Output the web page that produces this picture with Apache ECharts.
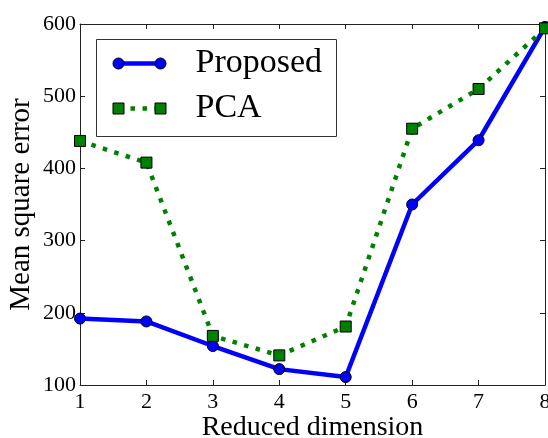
<!DOCTYPE html>
<html>
<head>
<meta charset="utf-8">
<script src="https://cdn.jsdelivr.net/npm/echarts@6/dist/echarts.min.js"></script>
<style>
  html, body { margin: 0; padding: 0; background: #fff; }
  #chart { width: 548px; height: 438px; }
</style>
</head>
<body>
<div id="chart"></div>
<script>
(function () {
    'use strict';

    // data
    var dims = [1, 2, 3, 4, 5, 6, 7, 8];
    var proposed = [192, 188, 154, 122, 111, 350, 439, 596];
    var pca = [438, 408, 168, 141, 181, 455, 510, 594];
    var seriesNames = ['Proposed', 'PCA'];

    var FONT = "'Liberation Serif', 'Times New Roman', serif";
    var BLUE = '#0000ff';
    var GREEN = '#008000';

    function pairs(ys) {
        return dims.map(function (d, i) { return [d, ys[i]]; });
    }

    var myChart = echarts.init(document.getElementById('chart'));

    var axisLine = { show: true, lineStyle: { color: '#222', width: 1 } };
    var tick = { show: true, inside: true, length: 5, lineStyle: { color: '#222' } };

    var legendX = 96, legendY = 39;

    var option = {
        backgroundColor: '#fff',
        animation: false,
        grid: { left: 80, right: 3, top: 24, bottom: 53, containLabel: false, outerBoundsMode: 'none' },
        xAxis: [
            {
                type: 'value', min: 1, max: 8, interval: 1,
                name: 'Reduced dimension', nameLocation: 'middle', nameGap: 29,
                nameMoveOverlap: false,
                nameTextStyle: { fontFamily: FONT, fontSize: 28, color: '#000' },
                axisLine: axisLine, axisTick: tick,
                axisLabel: { fontFamily: FONT, fontSize: 22, color: '#000', margin: 6 },
                splitLine: { show: false }
            },
            {
                type: 'value', min: 1, max: 8, interval: 1, position: 'top',
                axisLine: axisLine, axisTick: tick,
                axisLabel: { show: false }, splitLine: { show: false }
            }
        ],
        yAxis: [
            {
                type: 'value', min: 100, max: 600, interval: 100,
                name: 'Mean square error', nameLocation: 'middle', nameGap: 44,
                nameMoveOverlap: false,
                nameTextStyle: { fontFamily: FONT, fontSize: 29, color: '#000' },
                axisLine: axisLine, axisTick: tick,
                axisLabel: { fontFamily: FONT, fontSize: 22, color: '#000', margin: 4 },
                splitLine: { show: false }
            },
            {
                type: 'value', min: 100, max: 600, interval: 100, position: 'right',
                axisLine: axisLine, axisTick: tick,
                axisLabel: { show: false }, splitLine: { show: false }
            }
        ],
        series: [
            {
                name: seriesNames[0], type: 'line', data: pairs(proposed),
                symbol: 'circle', symbolSize: 11,
                lineStyle: { color: BLUE, width: 4.5 },
                itemStyle: { color: BLUE, borderColor: '#000', borderWidth: 1 },
                z: 2
            },
            {
                name: seriesNames[1], type: 'line', data: pairs(pca),
                symbol: 'rect', symbolSize: 11,
                lineStyle: { color: GREEN, width: 4.5, type: [4.5, 7.5], cap: 'butt' },
                itemStyle: { color: GREEN, borderColor: '#000', borderWidth: 1 },
                z: 3
            }
        ],
        graphic: [
            {
                type: 'group', left: legendX, top: legendY, z: 10,
                children: [
                    { type: 'rect', shape: { x: 0, y: 0, width: 240, height: 97 },
                      style: { fill: '#fff', stroke: '#333', lineWidth: 1 } },
                    { type: 'line', shape: { x1: 22, y1: 24, x2: 64, y2: 24 },
                      style: { stroke: BLUE, lineWidth: 4.5 } },
                    { type: 'circle', shape: { cx: 22, cy: 24, r: 5.5 },
                      style: { fill: BLUE, stroke: '#000', lineWidth: 1 } },
                    { type: 'circle', shape: { cx: 64, cy: 24, r: 5.5 },
                      style: { fill: BLUE, stroke: '#000', lineWidth: 1 } },
                    { type: 'text', x: 99, y: 24,
                      style: { text: seriesNames[0], fontFamily: FONT, fontSize: 34,
                               fill: '#000', verticalAlign: 'middle' } },
                    { type: 'line', shape: { x1: 22, y1: 69, x2: 64, y2: 69 },
                      style: { stroke: GREEN, lineWidth: 4.5, lineDash: [4.5, 7.5] } },
                    { type: 'rect', shape: { x: 16.5, y: 63.5, width: 11, height: 11 },
                      style: { fill: GREEN, stroke: '#000', lineWidth: 1 } },
                    { type: 'rect', shape: { x: 58.5, y: 63.5, width: 11, height: 11 },
                      style: { fill: GREEN, stroke: '#000', lineWidth: 1 } },
                    { type: 'text', x: 99, y: 69,
                      style: { text: seriesNames[1], fontFamily: FONT, fontSize: 34,
                               fill: '#000', verticalAlign: 'middle' } }
                ]
            }
        ]
    };

    myChart.setOption(option);
})();
</script>
</body>
</html>
